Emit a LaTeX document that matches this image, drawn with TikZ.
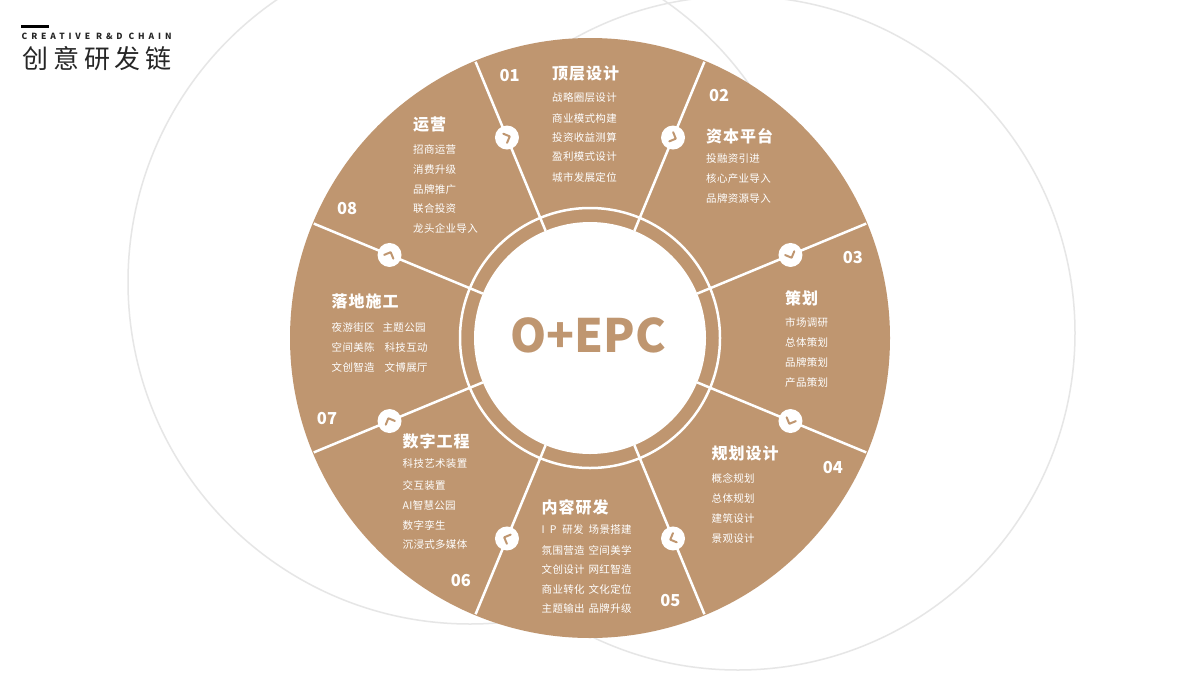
\documentclass[tikz,border=0pt]{standalone}
\usepackage{fontspec}
\setmainfont{Noto Sans CJK SC}
\newfontfamily\titlefont{Noto Sans CJK SC}[LetterSpace=19]
\newfontfamily\enfont{Noto Sans CJK SC}[LetterSpace=46]
\newfontfamily\segfont{Noto Sans CJK SC}[LetterSpace=6]
\newfontfamily\itemfont{Noto Sans CJK SC}[LetterSpace=3]
\usetikzlibrary{calc}
\definecolor{brn}{HTML}{BF9670}
\definecolor{ringgray}{HTML}{E6E6E6}
\tikzset{
 segtitle/.style={anchor=west, inner sep=0pt, text=white, font=\segfont\bfseries\fontsize{16}{16}\selectfont},
 segitem/.style={anchor=west, inner sep=0pt, text=white, font=\itemfont\fontsize{10.5}{10.5}\selectfont},
 numlabel/.style={inner sep=0pt, text=white, font=\bfseries\fontsize{16.5}{16.5}\selectfont},
 divider/.style={white, line width=2.5pt},
 knob/.style={circle, fill=white, minimum size=24pt, inner sep=0pt},
 chev/.style={brn, line width=2pt, line cap=round, line join=round},
 bgcircle/.style={ringgray, line width=1.5pt},
}
\newcommand\segblock[5]{%
  \node[segtitle] (#1) at (#2,#3) {#4};
  \foreach \yy/\txt [count=\i] in {#5}
    \node[segitem] (#1-\i) at (#2,\yy) {\txt};
}
\begin{document}
\begin{tikzpicture}[x=1pt,y=-1pt]
\useasboundingbox (0,0) rectangle (1200,675);
\fill[white] (0,0) rectangle (1200,675);
\begin{scope}
\clip (0,0) rectangle (1200,675);
\draw[bgcircle] (470,282) circle (342pt);
\draw[bgcircle] (738,333) circle (337pt);
\end{scope}
% heading
\fill[black] (21,24.5) rectangle (48.5,27.5);
\node[anchor=west, inner sep=0pt, text=black!85, font=\enfont\bfseries\fontsize{8.5}{8.5}\selectfont] (en) at (21.5,36.5) {CREATIVE R\&D CHAIN};
\node[anchor=west, inner sep=0pt, text=black!85, font=\titlefont\fontsize{26}{26}\selectfont] (cn) at (22,59) {创意研发链};
% wheel
\coordinate (c) at (590,338);
\fill[brn] (c) circle (300pt);
\foreach \a in {22.5,67.5,...,337.5}
  \draw[divider] ($(c)+(\a:116pt)$) -- ($(c)+(\a:299pt)$);
\draw[white, line width=2.5pt] (c) circle (130pt);
\fill[white] (c) circle (116pt);
\node[text=brn, inner sep=0pt, font=\bfseries\fontsize{46}{46}\selectfont] (core) at (588,335) {O+EPC};
% knobs with chevrons
\foreach \a [count=\i] in {112.5,67.5,22.5,-22.5,-67.5,-112.5,-157.5,157.5} {
  \node[knob] (k\i) at ($(c)+(\a:217pt)$) {};
  \draw[chev] ($(k\i)+({\a-90}:3pt)+({\a+135}:7pt)$) -- ($(k\i)+({\a-90}:3pt)$) -- ($(k\i)+({\a-90}:3pt)+({\a+45}:7pt)$);
}
% numbers
\foreach \a/\t in {107/01,62/02,17/03,-28/04,-73/05,-118/06,-163/07,152/08}
  \node[numlabel] (n\t) at ($(c)+(\a:275pt)$) {\t};
% segment texts
\segblock{s1}{552}{74}{顶层设计}{98/战略圈层设计,118/商业模式构建,137.5/投资收益测算,157/盈利模式设计,177/城市发展定位}
\segblock{s2}{706}{136.5}{资本平台}{159/投融资引进,179/核心产业导入,199/品牌资源导入}
\segblock{s3}{785}{298}{策划}{322.5/市场调研,342.5/总体策划,362.5/品牌策划,382.5/产品策划}
\segblock{s4}{711.5}{453.5}{规划设计}{478.5/概念规划,498.5/总体规划,518.5/建筑设计,538.5/景观设计}
\segblock{s5}{541.5}{507}{内容研发}{529.5/I\hspace{5pt}P\hspace{6pt}研发\hspace{5pt}场景搭建,550/氛围营造\hspace{4pt}空间美学,569.5/文创设计\hspace{4pt}网红智造,589.5/商业转化\hspace{4pt}文化定位,608.5/主题输出\hspace{4pt}品牌升级}
\segblock{s6}{402.5}{441}{数字工程}{464/科技艺术装置,485.5/交互装置,505.5/AI智慧公园,525.5/数字孪生,544.5/沉浸式多媒体}
\segblock{s7}{331.5}{301.5}{落地施工}{327.5/夜游街区\hspace{8pt}主题公园,347.5/空间美陈\hspace{10pt}科技互动,367.5/文创智造\hspace{10pt}文博展厅}
\segblock{s8}{413}{125}{运营}{149.5/招商运营,169.5/消费升级,189.5/品牌推广,208.5/联合投资,228.5/龙头企业导入}
\end{tikzpicture}
\end{document}
